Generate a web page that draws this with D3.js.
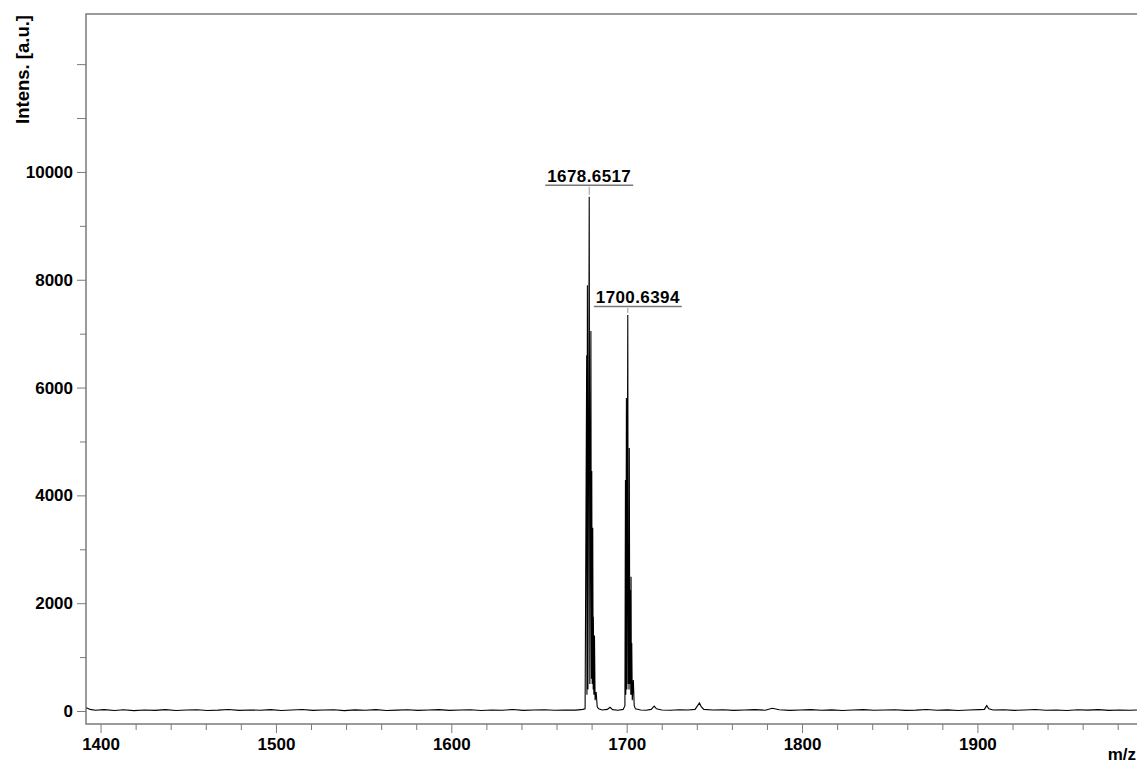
<!DOCTYPE html>
<meta charset="utf-8">
<style>
body { margin: 0; background: #fff; }
text { font-family: "Liberation Sans", Arial, sans-serif; font-weight: bold; fill: #000; }
.frame { stroke: #7a7a7a; stroke-width: 1.5px; fill: none; }
.axis .tick line { stroke: #7a7a7a; stroke-width: 1px; }
.axis .tick text { font-size: 17px; }
.spectrum { fill: none; stroke: #000; stroke-width: 1.1px; }
.leader { stroke: #999; stroke-width: 1px; }
.uline { stroke: #777; stroke-width: 1.5px; }
</style>
<svg width="1137" height="763"></svg>
<script src="https://d3js.org/d3.v7.min.js"></script>
<script>
// tick labels
var xTickLabels = [1400, 1500, 1600, 1700, 1800, 1900];
var yTickLabels = [0, 2000, 4000, 6000, 8000, 10000];

// spectrum profile (m/z, intensity)
var specMz = [
  1392, 1394, 1397, 1402, 1408, 1413, 1419, 1425, 1431, 1437, 1443, 1449, 1455, 1461, 1467,
  1473, 1479, 1485, 1491, 1497, 1503, 1509, 1515, 1521, 1527, 1533, 1539, 1545, 1551, 1557,
  1563, 1569, 1575, 1581, 1587, 1593, 1599, 1605, 1611, 1617, 1623, 1629, 1635, 1641, 1647,
  1653, 1659, 1665, 1671, 1675, 1676.3,
  1677.2, 1677.35, 1677.6, 1677.9, 1678.65, 1679.0, 1679.6, 1679.9, 1680.1, 1680.35,
  1680.65, 1680.9, 1681.0, 1681.3, 1681.65, 1682.0, 1682.6, 1683.2, 1684, 1686,
  1689, 1690.5, 1692, 1695, 1698, 1699.0,
  1699.3, 1699.5, 1699.85, 1700.1, 1700.64, 1700.9, 1701.2, 1701.35, 1701.5, 1701.8,
  1702.2, 1702.35, 1702.5, 1702.7, 1702.9, 1703.2, 1703.8, 1704.3, 1705, 1708,
  1711, 1714, 1715.7, 1717, 1720, 1725, 1730, 1735, 1739, 1741.5, 1742.5, 1744, 1749,
  1755, 1761, 1767, 1773, 1779, 1783, 1787, 1793, 1799, 1805, 1811, 1817, 1823, 1829,
  1835, 1841, 1847, 1853, 1859, 1865, 1871, 1877, 1883, 1889, 1895, 1901, 1904, 1905.3,
  1906.5, 1909, 1915, 1921, 1927, 1933, 1939, 1945, 1951, 1957, 1963, 1969, 1975, 1981,
  1987, 1991
];
var specInt = [
  60, 30, 15, 25, 10, 22, 8, 20, 12, 26, 9, 18, 24, 10, 16,
  28, 11, 20, 14, 25, 9, 19, 27, 12, 18, 23, 8, 21, 15, 26,
  10, 17, 22, 12, 19, 25, 11, 18, 24, 9, 20, 15, 27, 12, 18,
  22, 14, 20, 16, 30, 40,
  6600, 300, 7900, 400, 9540, 500, 7050, 600, 4450, 500,
  3400, 400, 1750, 300, 1400, 200, 350, 80, 40, 20,
  30, 70, 25, 15, 30, 100,
  4285, 300, 5807, 400, 7347, 500, 1630, 400, 4880, 500,
  2245, 300, 2490, 300, 1260, 200, 575, 100, 40, 20,
  15, 30, 90, 40, 20, 15, 22, 18, 30, 150, 80, 30, 18,
  24, 12, 20, 26, 15, 50, 22, 12, 19, 25, 14, 21, 9, 18,
  26, 13, 20, 24, 11, 17, 28, 14, 21, 10, 19, 25, 30, 100,
  40, 18, 24, 12, 20, 27, 14, 19, 10, 22, 16, 25, 12, 20,
  14, 18
];

// labelled peaks
var peakMz = [1678.6517, 1700.6394];
var peakInt = [9540, 7347];

var svg = d3.select("svg"),
    plotL = 86, plotT = 14, plotR = 1137, plotB = 724;

var x = d3.scaleLinear().domain([1391.7, 1991]).range([plotL, plotR]);
var y = d3.scaleLinear().domain([-241, 12930]).range([plotB, plotT]);

// x axis: labelled ticks every 100, minor every 20
svg.append("g")
    .attr("class", "axis")
    .attr("transform", "translate(0," + plotB + ")")
    .call(d3.axisBottom(x).tickValues(d3.range(1420, 1990, 20).filter(function(d) { return d % 100; }))
      .tickSize(6).tickFormat(""))
    .select(".domain").remove();
var gx = svg.append("g")
    .attr("class", "axis")
    .attr("transform", "translate(0," + plotB + ")")
    .call(d3.axisBottom(x).tickValues(xTickLabels).tickSize(9).tickPadding(5).tickFormat(d3.format("d")));
gx.select(".domain").remove();

// y axis
svg.append("g")
    .attr("class", "axis")
    .attr("transform", "translate(" + plotL + ",0)")
    .call(d3.axisLeft(y).tickValues([1000, 3000, 5000, 7000, 9000]).tickSize(6).tickFormat(""))
    .select(".domain").remove();
svg.append("g")
    .attr("class", "axis")
    .attr("transform", "translate(" + plotL + ",0)")
    .call(d3.axisLeft(y).tickValues([11000, 12000]).tickSize(9).tickFormat(""))
    .select(".domain").remove();
var gy = svg.append("g")
    .attr("class", "axis")
    .attr("transform", "translate(" + plotL + ",0)")
    .call(d3.axisLeft(y).tickValues(yTickLabels).tickSize(9).tickPadding(4).tickFormat(d3.format("d")));
gy.select(".domain").remove();

// frame: left, top, bottom
svg.append("path")
    .attr("class", "frame")
    .attr("d", "M" + plotR + "," + plotT + "H" + plotL + "V" + plotB + "H" + plotR);

// spectrum
var pts = specMz.map(function(m, i) { return [m, specInt[i]]; });
svg.append("path")
    .datum(pts)
    .attr("class", "spectrum")
    .attr("d", d3.line().x(function(d) { return x(d[0]); }).y(function(d) { return y(d[1]); }));

// peak labels (small nudges so the two labels do not collide)
var labelDx = [0, 10], labelDy = [-3, 0];
peakMz.forEach(function(m, i) {
  var px = x(m), py = y(peakInt[i]);
  var cx = px + labelDx[i], ly = py - 12 + labelDy[i];
  var t = svg.append("text")
      .attr("x", cx)
      .attr("y", ly)
      .attr("text-anchor", "middle")
      .style("font-size", "17px")
      .style("letter-spacing", "0.4px")
      .text(m.toFixed(4));
  var w = t.node().getComputedTextLength();
  svg.append("line").attr("class", "uline")
      .attr("x1", cx - w / 2 - 2).attr("x2", cx + w / 2 + 2)
      .attr("y1", ly + 3.5).attr("y2", ly + 3.5);
  svg.append("line").attr("class", "leader")
      .attr("x1", px).attr("x2", px)
      .attr("y1", ly + 5).attr("y2", py - 2);
});

// axis titles
svg.append("text")
    .attr("transform", "translate(29,15) rotate(-90)")
    .attr("text-anchor", "end")
    .style("font-size", "18.5px")
    .text("Intens. [a.u.]");
svg.append("text")
    .attr("x", 1136)
    .attr("y", 760)
    .attr("text-anchor", "end")
    .style("font-size", "17px")
    .text("m/z");
</script>
